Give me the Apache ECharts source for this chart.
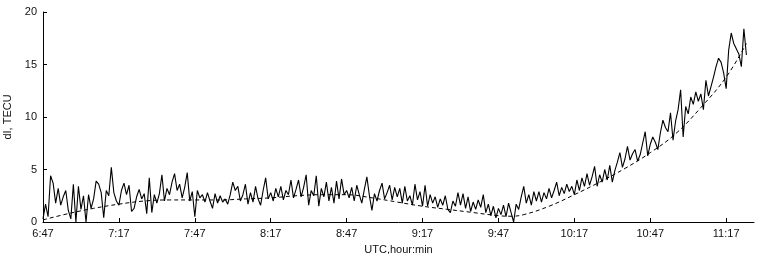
<!DOCTYPE html>
<html>
<head>
<meta charset="utf-8">
<script src="https://cdn.jsdelivr.net/npm/echarts@6/dist/echarts.min.js"></script>
<style>
html,body{margin:0;padding:0;background:#fff;}
#chart{width:772px;height:254px;}
</style>
</head>
<body>
<div id="chart"></div>
<script>
// Start time of the record (UTC) and sampling step in minutes
const startLabel = '6:47';
const sampleStepMin = 1;

// Measured dI (TECU), one sample per minute starting at 6:47 UTC
const dI = [
0.3,1.7,0.5,4.4,3.7,1.8,3.2,1.6,2.4,3.0,
1.1,0.3,3.6,0.0,3.4,1.2,2.5,0.0,2.6,1.3,
2.2,3.9,3.6,2.8,0.4,3.0,2.5,5.2,2.8,2.0,
1.6,3.0,3.7,2.6,3.5,1.0,1.3,2.4,3.1,2.2,
2.7,0.8,4.2,0.9,2.6,1.8,2.7,4.5,2.0,3.2,
2.6,3.8,4.6,3.0,3.6,2.3,3.3,4.7,2.0,2.9,
0.5,3.0,2.3,2.6,1.9,2.8,2.0,1.3,2.7,1.8,
2.5,1.9,2.2,1.7,2.6,3.8,3.0,3.4,2.0,2.6,
3.6,1.7,2.8,1.9,3.4,2.2,1.6,3.0,4.2,2.2,
2.8,2.0,3.2,2.4,3.4,2.1,3.0,2.6,4.0,2.3,
3.1,4.0,2.4,3.3,4.5,1.6,3.0,2.5,4.4,1.5,
3.2,2.4,3.8,2.0,3.3,1.8,3.9,2.2,4.1,2.6,
3.0,2.3,3.3,2.0,3.5,2.6,1.8,3.1,4.3,2.5,
1.1,2.7,2.0,3.0,3.7,2.2,2.8,3.5,2.1,3.3,
2.4,3.2,1.8,3.4,2.0,2.5,1.6,3.6,2.1,2.9,
1.5,3.5,1.5,2.6,1.8,2.4,1.4,2.2,1.6,2.5,
1.2,0.9,2.0,1.5,2.8,1.6,2.7,1.3,2.4,1.0,
1.9,1.2,2.1,1.4,2.6,0.9,1.7,0.6,1.5,0.4,
1.3,0.7,1.6,0.5,1.8,0.9,0.0,1.7,1.2,2.4,
3.4,1.8,2.6,1.6,2.9,2.0,2.9,1.9,2.8,2.2,
3.2,2.3,3.0,3.8,2.5,3.3,2.7,3.6,2.9,3.4,
2.6,4.0,3.0,4.2,3.4,4.6,3.5,4.3,5.3,3.4,
4.5,3.8,5.0,4.0,5.4,3.8,4.9,5.7,6.6,5.2,
6.0,7.2,5.9,6.5,6.9,5.8,6.4,7.5,8.6,6.3,
7.4,8.1,7.6,6.9,8.5,9.7,9.0,8.6,10.4,7.8,
9.6,10.7,12.6,8.1,11.0,10.3,11.9,11.2,12.4,11.5,
12.2,10.7,13.5,12.0,12.9,13.8,14.8,15.6,15.2,14.2,
12.7,16.4,18.0,17.0,16.5,16.0,14.8,18.4,15.9
];

// Smooth trend (dashed), minutes after 6:47 and values
const trendMinutes = [0,10,20,30,40,50,60,70,80,90,100,110,120,130,140,150,160,170,180,185,190,200,210,220,230,240,250,260,270,278];
const trendValues  = [0.2,0.8,1.3,1.7,2.0,2.1,2.1,2.1,2.2,2.3,2.5,2.6,2.6,2.3,1.9,1.5,1.2,0.9,0.6,0.55,0.7,1.5,2.6,3.8,5.1,6.6,8.4,10.9,13.8,17.0];

// Axis ticks
const xTickMinutes = [0,30,60,90,120,150,180,210,240,270];
const xMaxMinutes = 281;
const yTicks = [0,5,10,15,20];

function minutesToLabel(v){
  const [h0,m0] = startLabel.split(':').map(Number);
  const t = h0*60 + m0 + Math.round(v);
  const h = Math.floor(t/60), m = t%60;
  return h + ':' + (m<10?'0':'') + m;
}

const measured = dI.map((v,i)=>[i*sampleStepMin, v]);
const trend = trendMinutes.map((m,i)=>[m, trendValues[i]]);

const chart = echarts.init(document.getElementById('chart'), null, {renderer:'canvas'});
const font = 'Liberation Sans, Arial, Helvetica, sans-serif';
chart.setOption({
  animation:false,
  backgroundColor:'#fff',
  grid:{left:43,right:18,top:12,bottom:32,containLabel:false,outerBoundsMode:'none'},
  xAxis:{
    type:'value',min:0,max:xMaxMinutes,interval:30,
    name:'UTC,hour:min',nameLocation:'middle',nameGap:22,
    nameTextStyle:{color:'#111',fontFamily:font,fontSize:11},
    axisLine:{show:true,lineStyle:{color:'#000',width:1}},
    axisTick:{show:true,inside:true,length:4,lineStyle:{color:'#000'},customValues:xTickMinutes},
    axisLabel:{color:'#111',fontFamily:font,fontSize:11,margin:6,customValues:xTickMinutes,formatter:minutesToLabel},
    splitLine:{show:false}
  },
  yAxis:{
    type:'value',min:yTicks[0],max:yTicks[yTicks.length-1],interval:5,
    name:'dI, TECU',nameLocation:'middle',nameGap:27,
    nameTextStyle:{color:'#111',fontFamily:font,fontSize:11},
    axisLine:{show:true,lineStyle:{color:'#000',width:1}},
    axisTick:{show:true,inside:true,length:4,lineStyle:{color:'#000'}},
    axisLabel:{color:'#111',fontFamily:font,fontSize:11,margin:6},
    splitLine:{show:false}
  },
  series:[
    {type:'line',data:measured,showSymbol:false,symbol:'none',
     lineStyle:{color:'#000',width:1.1},z:3},
    {type:'line',data:trend,showSymbol:false,symbol:'none',smooth:0.4,
     lineStyle:{color:'#000',width:1,type:[4,3]},z:2}
  ]
});
</script>
</body>
</html>
